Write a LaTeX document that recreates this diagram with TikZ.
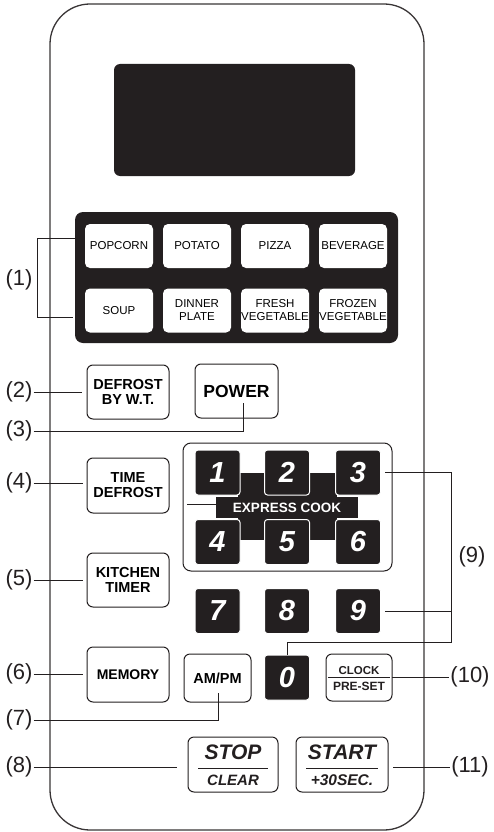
\documentclass[tikz,border=0pt]{standalone}
\usepackage{fontspec}
\setmainfont{Liberation Sans}
\definecolor{ink}{HTML}{231F20}
\begin{document}
\begin{tikzpicture}[x=1pt,y=-1pt,
  conn/.style={draw=ink,line width=1pt},
  wbtn/.style={draw=ink,fill=white,line width=1pt,rounded corners=6pt,inner sep=0pt,outer sep=0pt,align=center,font=\bfseries\fontsize{14.5}{15}\selectfont},
  food/.style={fill=white,rounded corners=5pt,minimum width=68pt,minimum height=44pt,inner sep=0pt,align=center,font=\fontsize{11.5}{13}\selectfont},
  numkey/.style={fill=ink,draw=white,line width=1pt,rounded corners=3pt,minimum width=45pt,minimum height=45pt,inner sep=0pt,text=white,font=\bfseries\itshape\fontsize{29}{29}\selectfont},
  lbl/.style={inner sep=1pt,text=ink,font=\fontsize{22}{22}\selectfont},
  txt/.style={inner sep=0pt,text=ink},
]
\useasboundingbox (0,0) rectangle (494,832);
% outer panel
\node[draw=ink!90,line width=1.3pt,rounded corners=40pt,minimum width=374pt,minimum height=826pt,inner sep=0pt] (panel) at (237,417) {};
% display
\node[fill=ink,rounded corners=6pt,minimum width=241pt,minimum height=112pt,inner sep=0pt] (disp) at (234.5,120) {};
% food panel
\node[fill=ink,rounded corners=8pt,minimum width=323pt,minimum height=131pt,inner sep=0pt] (fp) at (236.5,277.5) {};
\node[food] (popcorn) at (119,246) {POPCORN};
\node[food] (potato) at (197,246) {POTATO};
\node[food] (pizza) at (275,246) {PIZZA};
\node[food] (bev) at (353,246) {BEVERAGE};
\node[food] (soup) at (119,310.5) {SOUP};
\node[food] (dinner) at (197,310.5) {DINNER\\PLATE};
\node[food] (fresh) at (275,310.5) {FRESH\\VEGETABLE};
\node[food] (frozen) at (353,310.5) {FROZEN\\VEGETABLE};
% left buttons
\node[wbtn,minimum width=82pt,minimum height=54pt] (bwt) at (128,392) {DEFROST\\BY W.T.};
\node[wbtn,minimum width=83pt,minimum height=54pt,font=\bfseries\fontsize{17.5}{18}\selectfont] (power) at (236.5,391) {POWER};
\node[wbtn,minimum width=82pt,minimum height=55pt] (tdef) at (128,485.5) {TIME\\DEFROST};
\node[wbtn,minimum width=82pt,minimum height=54pt] (kit) at (128,580) {KITCHEN\\TIMER};
\node[wbtn,minimum width=82pt,minimum height=55pt,font=\bfseries\fontsize{14}{15}\selectfont] (mem) at (128,674.5) {MEMORY};
\node[wbtn,minimum width=67pt,minimum height=48pt] (ampm) at (217.5,678) {AM/PM};
% clock preset
\node[wbtn,minimum width=66pt,minimum height=47pt] (clock) at (359,677.5) {};
\node[txt,font=\bfseries\fontsize{11.5}{12}\selectfont] (clk1) at (359,671) {CLOCK};
\node[txt,font=\bfseries\fontsize{12}{12}\selectfont] (clk2) at (359,686) {PRE-SET};
\draw[ink,line width=1pt] (328,677) -- (390,677);
% stop / start
\node[wbtn,minimum width=90pt,minimum height=55pt] (stop) at (233,764.5) {};
\node[txt,font=\bfseries\itshape\fontsize{21}{21}\selectfont] (stop1) at (233,752.5) {STOP};
\node[txt,font=\bfseries\itshape\fontsize{15}{15}\selectfont] (stop2) at (233,780.5) {CLEAR};
\draw[ink,line width=1pt] (198,768) -- (268,768);
\node[wbtn,minimum width=92pt,minimum height=55pt] (start) at (342,764.5) {};
\node[txt,font=\bfseries\itshape\fontsize{21}{21}\selectfont] (start1) at (342,752.5) {START};
\node[txt,font=\bfseries\itshape\fontsize{15.5}{15.5}\selectfont] (start2) at (342,780.5) {+30SEC.};
\draw[ink,line width=1pt] (306,768) -- (378,768);
% number pad
\node[draw=ink,line width=1pt,rounded corners=8pt,minimum width=209pt,minimum height=128pt,inner sep=0pt] (np) at (287.5,507) {};
\fill[ink] (216,497) rectangle (358,518);
\fill[ink] (238,473) rectangle (337,540);
\node[numkey] (k1) at (217.5,472.5) {1};
\node[numkey] (k2) at (287,472.5) {2};
\node[numkey] (k3) at (358,472.5) {3};
\node[numkey] (k4) at (217.5,542) {4};
\node[numkey] (k5) at (287,542) {5};
\node[numkey] (k6) at (358,542) {6};
\node[numkey] (k7) at (217.5,611) {7};
\node[numkey] (k8) at (287,611) {8};
\node[numkey] (k9) at (358,611) {9};
\node[numkey] (k0) at (287,677.5) {0};
\node[txt,text=white,font=\bfseries\fontsize{13.5}{13.5}\selectfont] (ec) at (287,507.5) {EXPRESS COOK};
\coordinate (ecl) at (187,504);
\coordinate (ecr) at (216,504);
\draw[conn] (ecl) -- (ecr);
% labels
\node[lbl] (l1) at (19,280) {(1)};
\node[lbl] (l2) at (19,392) {(2)};
\node[lbl] (l3) at (19,431) {(3)};
\node[lbl] (l4) at (19,483) {(4)};
\node[lbl] (l5) at (19,580) {(5)};
\node[lbl] (l6) at (19,674) {(6)};
\node[lbl] (l7) at (19,720) {(7)};
\node[lbl] (l8) at (19,767) {(8)};
\node[lbl] (l9) at (472,557) {(9)};
\node[lbl] (l10) at (470,677) {(10)};
\node[lbl] (l11) at (470,767) {(11)};
% connectors
\coordinate (b1t) at (37,238);
\coordinate (b1b) at (37,317);
\draw[conn] (fp.west |- b1t) -- (b1t) -- (b1b) -- ([xshift=-2pt]fp.west |- b1b);
\draw[conn,shorten >=5pt] (l2.east) -- (l2.east -| bwt.west);
\coordinate (c3) at (243,403);
\draw[conn] (l3.east) -| (c3);
\draw[conn,shorten >=4pt] (l4.east) -- (l4.east -| tdef.west);
\draw[conn,shorten >=4pt] (l5.east) -- (l5.east -| kit.west);
\draw[conn,shorten >=4pt] (l6.east) -- (l6.east -| mem.west);
\coordinate (c7) at (218,693);
\draw[conn] (l7.east) -| (c7);
\draw[conn,shorten >=11pt] (l8.east) -- (l8.east -| stop.west);
\coordinate (c9t) at (451,472.5);
\coordinate (c9b) at (451,642);
\coordinate (c9c) at (287,642);
\draw[conn,shorten <=4pt] (k3.east) -- (c9t) -- (c9b) -- (c9c) -- (k0.north);
\draw[conn,shorten <=4pt] (k9.east) -- (k9.east -| c9t);
\draw[conn] (clock.east) -- (clock.east -| l10.west);
\draw[conn,shorten <=5pt] (l11.west -| start.east) -- (l11.west);
\end{tikzpicture}
\end{document}
